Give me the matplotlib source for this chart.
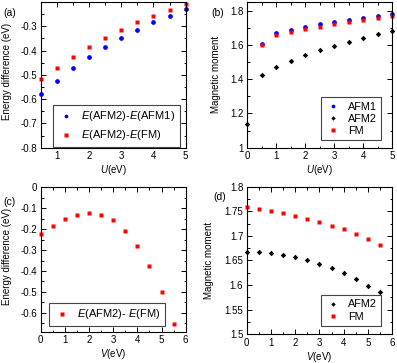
import matplotlib
matplotlib.use("Agg")
import matplotlib.pyplot as plt
from matplotlib.ticker import MultipleLocator

plt.rcParams['font.family'] = ['Liberation Sans', 'DejaVu Sans']
plt.rcParams['font.size'] = 7
plt.rcParams['mathtext.fontset'] = 'custom'
plt.rcParams['mathtext.rm'] = 'Liberation Sans'
plt.rcParams['mathtext.it'] = 'Liberation Sans:italic'

# panel (a): energy difference vs U
u_a = [0.5, 1.0, 1.5, 2.0, 2.5, 3.0, 3.5, 4.0, 4.5, 5.0]
de_afm1 = [-0.579, -0.525, -0.473, -0.426, -0.385, -0.348, -0.314, -0.284, -0.256, -0.230]
de_fm = [-0.516, -0.473, -0.426, -0.384, -0.347, -0.314, -0.284, -0.256, -0.232, -0.207]

# panel (b): magnetic moment vs U
u_b = [0.5, 1.0, 1.5, 2.0, 2.5, 3.0, 3.5, 4.0, 4.5, 5.0]
u_b2 = [0.0, 0.5, 1.0, 1.5, 2.0, 2.5, 3.0, 3.5, 4.0, 4.5, 5.0]
m_afm1 = [1.606, 1.667, 1.687, 1.707, 1.719, 1.733, 1.745, 1.756, 1.768, 1.782]
m_afm2 = [1.139, 1.422, 1.469, 1.505, 1.541, 1.568, 1.596, 1.618, 1.640, 1.661, 1.681]
m_fm = [1.598, 1.655, 1.677, 1.693, 1.707, 1.719, 1.731, 1.743, 1.758, 1.770]

# panel (c): energy difference vs V
v = [0.0, 0.5, 1.0, 1.5, 2.0, 2.5, 3.0, 3.5, 4.0, 4.5, 5.0, 5.5]
de_v = [-0.225, -0.183, -0.152, -0.131, -0.124, -0.131, -0.158, -0.207, -0.279, -0.375, -0.501, -0.655]

# panel (d): magnetic moment vs V
mv_afm2 = [1.667, 1.6665, 1.665, 1.662, 1.657, 1.650, 1.643, 1.634, 1.624, 1.612, 1.599, 1.585]
mv_fm = [1.758, 1.755, 1.7505, 1.746, 1.741, 1.735, 1.728, 1.721, 1.713, 1.704, 1.694, 1.682]

BLUE = '#0000ff'
RED = '#ff0000'

fig = plt.figure(figsize=(3.97, 3.63), dpi=100)
ax_a = fig.add_axes([0.1025, 0.5931, 0.3652, 0.4014])
ax_b = fig.add_axes([0.6230, 0.5931, 0.3652, 0.4014])
ax_c = fig.add_axes([0.1025, 0.0862, 0.3652, 0.3978])
ax_d = fig.add_axes([0.6214, 0.0791, 0.3667, 0.4066])


def style(ax, xmaj, xmin, ymaj, ymin):
    ax.xaxis.set_major_locator(MultipleLocator(xmaj))
    ax.xaxis.set_minor_locator(MultipleLocator(xmin))
    ax.yaxis.set_major_locator(MultipleLocator(ymaj))
    ax.yaxis.set_minor_locator(MultipleLocator(ymin))
    ax.tick_params(which='both', direction='in', top=True, right=True, width=0.7)
    ax.tick_params(which='major', length=3.5, labelsize=7, pad=2.5)
    ax.tick_params(which='minor', length=1.8)
    for s in ax.spines.values():
        s.set_linewidth(0.8)


def leg(ax, anchor, size, spacing):
    lg = ax.legend(loc='upper left', bbox_to_anchor=anchor, borderaxespad=0,
                   fancybox=False, edgecolor='#444444', framealpha=1,
                   handletextpad=0.6, borderpad=0.4, labelspacing=spacing,
                   fontsize=size, handlelength=1.5, markerscale=0.8)
    lg.get_frame().set_linewidth(0.8)
    return lg


# (a)
ax_a.plot(u_a, de_afm1, 'o', color=BLUE, ms=3.4, mec='none', clip_on=False,
          label='$E$(AFM2)-$E$(AFM1)')
ax_a.plot(u_a, de_fm, 's', color=RED, ms=3.1, mec='none', clip_on=False,
          label='$E$(AFM2)-$E$(FM)')
ax_a.set_xlim(0.5, 5)
ax_a.set_ylim(-0.8, -0.2)
style(ax_a, 1, 0.5, 0.1, 0.05)
ax_a.set_yticks([-0.8, -0.7, -0.6, -0.5, -0.4, -0.3])
ax_a.set_yticklabels(['-0.8', '-0.7', '-0.6', '-0.5', '-0.4', '-0.3'])
ax_a.set_xlabel('$U$(eV)', labelpad=1.5)
ax_a.set_ylabel('Energy difference (eV)')
ax_a.yaxis.set_label_coords(-0.2, 0.52)
leg(ax_a, (0.087, 0.293), 8, 0.45)

# (b)
ax_b.plot(u_b, m_afm1, 'o', color=BLUE, ms=3.4, mec='none', clip_on=False, label='AFM1')
ax_b.plot(u_b2, m_afm2, 'D', color='black', ms=2.8, mec='none', clip_on=False, label='AFM2')
ax_b.plot(u_b, m_fm, 's', color=RED, ms=3.1, mec='none', clip_on=False, label='FM')
ax_b.set_xlim(0, 5)
ax_b.set_ylim(1, 1.85)
style(ax_b, 1, 0.5, 0.2, 0.1)
ax_b.set_yticks([1, 1.2, 1.4, 1.6, 1.8])
ax_b.set_yticklabels(['1', '1.2', '1.4', '1.6', '1.8'])
ax_b.set_xlabel('$U$(eV)', labelpad=1.5)
ax_b.set_ylabel('Magnetic moment')
ax_b.yaxis.set_label_coords(-0.181, 0.5)
leg(ax_b, (0.506, 0.346), 7.8, 0.2)

# (c)
ax_c.plot(v, de_v, 's', color=RED, ms=3.1, mec='none', clip_on=False,
          label='$E$(AFM2)- $E$(FM)')
ax_c.set_xlim(0, 6)
ax_c.set_ylim(-0.69, 0)
style(ax_c, 1, 0.5, 0.1, 0.05)
ax_c.set_yticks([-0.6, -0.5, -0.4, -0.3, -0.2, -0.1, 0])
ax_c.set_yticklabels(['-0.6', '-0.5', '-0.4', '-0.3', '-0.2', '-0.1', '0'])
ax_c.set_xlabel('$V$(eV)', labelpad=1.5)
ax_c.set_ylabel('Energy difference (eV)')
ax_c.yaxis.set_label_coords(-0.198, 0.52)
leg(ax_c, (0.057, 0.199), 8, 0.45)

# (d)
ax_d.plot(v, mv_afm2, 'D', color='black', ms=2.8, mec='none', clip_on=False, label='AFM2')
ax_d.plot(v, mv_fm, 's', color=RED, ms=3.1, mec='none', clip_on=False, label='FM')
ax_d.set_xlim(0, 6)
ax_d.set_ylim(1.5, 1.8)
style(ax_d, 1, 0.5, 0.05, 0.025)
ax_d.set_yticks([1.5, 1.55, 1.6, 1.65, 1.7, 1.75, 1.8])
ax_d.set_yticklabels(['1.5', '1.55', '1.6', '1.65', '1.7', '1.75', '1.8'])
ax_d.set_xlabel('$V$(eV)', labelpad=1.5)
ax_d.set_ylabel('Magnetic moment')
ax_d.yaxis.set_label_coords(-0.225, 0.5)
leg(ax_d, (0.51, 0.266), 7.8, 0.2)

# panel letters
fig.text(3 / 397, 1 - 15.5 / 363, '(a)', fontsize=7.5)
fig.text(211 / 397, 1 - 15.5 / 363, '(b)', fontsize=7.5)
fig.text(3 / 397, 1 - 205 / 363, '(c)', fontsize=7.5)
fig.text(213 / 397, 1 - 200 / 363, '(d)', fontsize=7.5)

fig.savefig('out.png', dpi=100)
